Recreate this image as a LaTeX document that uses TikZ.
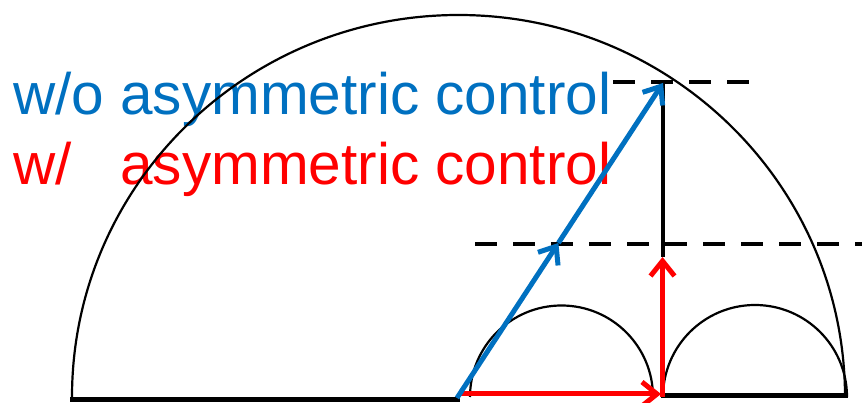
\documentclass[tikz,border=0pt]{standalone}
\usepackage{fontspec}
\setmainfont{Liberation Sans}
\usetikzlibrary{arrows.meta}
\definecolor{ppblue}{RGB}{0,112,192}
\definecolor{ppred}{RGB}{255,0,0}
\tikzset{
  thinarc/.style={line width=2.2pt, black},
  baseline/.style={line width=4.5pt, black},
  dashline/.style={line width=4pt, black, dash pattern=on 22pt off 16pt},
  vecarrow/.style={line width=5pt, -{Straight Barb[length=15pt,width=24pt]}},
  label/.style={anchor=base west, inner sep=0pt, font=\fontsize{58.5}{70}\selectfont},
}
\begin{document}
\begin{tikzpicture}[x=1pt,y=1pt]
\useasboundingbox (0,0) rectangle (862,403);
% texts
\node[label, text=ppblue] (wo) at (13,288) {w/o asymmetric control};
\node[label, text=ppred] (w) at (13,218) {w/\hphantom{o} asymmetric control};
% coordinates
\coordinate (bigL) at (72,6);
\coordinate (smlL) at (470,6);
\coordinate (smrL) at (663,6);
\coordinate (baseA) at (70,3.5);
\coordinate (baseB) at (460,3.5);
\coordinate (baseC) at (661,7.5);
\coordinate (baseD) at (848,7.5);
\coordinate (O) at (457,5);
\coordinate (M) at (558.4,160);
\coordinate (T) at (663,320);
\coordinate (rh0) at (460,9);
\coordinate (rh1) at (661,9);
\coordinate (rv0) at (662.5,6);
\coordinate (rv1) at (662.5,146);
\coordinate (vtop) at (662.5,321);
\coordinate (du0) at (613,321);
\coordinate (du1) at (750,321);
\coordinate (dl0) at (475,159);
\coordinate (dl1) at (875,159);
% arcs
\draw[thinarc] (bigL) arc[start angle=180, end angle=0, x radius=386.5, y radius=382];
\draw[thinarc] (smlL) arc[start angle=180, end angle=0, radius=91.5];
\draw[thinarc] (smrL) arc[start angle=180, end angle=0, radius=92];
% dashed levels
\draw[dashline] (du0) -- (du1);
\draw[dashline] (dl0) -- (dl1);
% base lines
\draw[baseline] (baseA) -- (baseB);
\draw[baseline] (baseC) -- (baseD);
% vertical black
\draw[line width=4pt] (rv1) -- (vtop);
% red vectors
\draw[vecarrow, ppred] (rh0) -- (rh1);
\draw[vecarrow, ppred] (rv0) -- (rv1);
% blue vectors
\draw[vecarrow, ppblue] (O) -- (M);
\draw[vecarrow, ppblue] (M) -- (T);
\end{tikzpicture}
\end{document}
